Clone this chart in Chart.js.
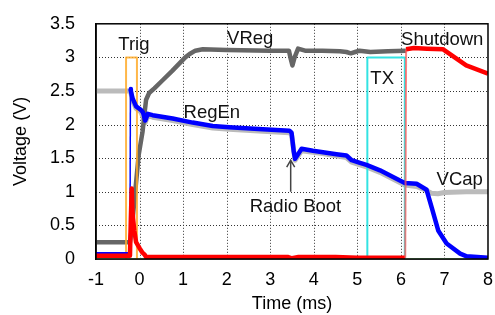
<!DOCTYPE html>
<html lang="en">
<head>
<meta charset="UTF-8">
<title>Voltage trace</title>
<script src="https://cdn.jsdelivr.net/npm/chart.js"></script>
<style>
  body { margin: 0; background: #fff; }
  .wrap { width: 495px; height: 315px; }
</style>
</head>
<body>
<div class="wrap"><canvas id="traceChart" width="495" height="315"></canvas></div>
<script>
// ---- data (time in ms, volts) ----
const vcapX = [-1, -0.21, -0.2, -0.16, -0.08, 0.03, 0.13, 0.19, 0.3, 0.76, 1.22, 1.68, 2.06, 2.83, 3.44, 3.49, 3.57, 3.72, 4.2, 4.75, 4.87, 5.06, 5.21, 5.52, 5.82, 6.09, 6.36, 6.55, 6.7, 6.85, 7.0, 7.5, 8.0];
const vcapY = [2.5, 2.5, 2.5, 2.36, 2.24, 2.19, 2.03, 2.13, 2.11, 2.06, 2.0, 1.95, 1.93, 1.9, 1.88, 1.85, 1.47, 1.61, 1.57, 1.51, 1.44, 1.40, 1.37, 1.29, 1.19, 1.1, 1.08, 1.03, 0.98, 0.97, 0.99, 1.0, 1.0];

const vregX = [-1, -0.22, -0.19, -0.15, -0.1, -0.02, 0.07, 0.12, 0.15, 0.22, 0.34, 0.53, 0.75, 0.9, 1.05, 1.15, 1.28, 1.45, 2.0, 3.0, 3.43, 3.47, 3.51, 3.56, 3.64, 3.8, 4.2, 4.6, 4.75, 4.85, 4.95, 5.05, 5.3, 5.7, 6.12];
const vregY = [0.25, 0.25, 0.4, 0.65, 1.0, 1.55, 1.9, 2.2, 2.37, 2.47, 2.54, 2.66, 2.8, 2.9, 3.0, 3.05, 3.1, 3.12, 3.11, 3.1, 3.1, 2.98, 2.88, 3.0, 3.13, 3.1, 3.1, 3.09, 3.08, 3.06, 3.08, 3.1, 3.08, 3.09, 3.1];

const regenX = [-1, -0.22, -0.21, -0.2, -0.16, -0.08, 0.03, 0.08, 0.13, 0.19, 0.3, 0.76, 1.22, 1.68, 2.06, 2.83, 3.44, 3.49, 3.54, 3.57, 3.72, 3.98, 4.52, 4.75, 4.87, 5.06, 5.21, 5.52, 5.82, 6.09, 6.36, 6.59, 6.71, 6.86, 7.05, 7.36, 7.51, 8.0];
const regenY = [0.07, 0.07, 2.53, 2.5, 2.39, 2.27, 2.22, 2.18, 2.06, 2.16, 2.14, 2.09, 2.03, 1.98, 1.96, 1.93, 1.91, 1.88, 1.6, 1.49, 1.64, 1.61, 1.56, 1.54, 1.47, 1.43, 1.40, 1.32, 1.22, 1.13, 1.12, 1.03, 0.76, 0.42, 0.23, 0.08, 0.04, 0.02];
const regenJumpX = -0.22;

const shutX = [-1, -0.22, -0.2, -0.18, -0.16, -0.12, -0.08, 0.0, 0.06, 0.11, 0.15, 1.0, 2.0, 3.0, 3.4, 3.5, 3.65, 4.5, 5.0, 6.1, 6.12, 6.3, 6.6, 6.97, 7.5, 8.0];
const shutY = [0.05, 0.05, 0.6, 1.05, 0.67, 0.42, 0.25, 0.16, 0.1, 0.07, 0.03, 0.03, 0.03, 0.03, 0.03, 0.01, 0.03, 0.03, 0.02, 0.02, 3.12, 3.14, 3.13, 3.12, 2.88, 2.76];
const shutJumpX = 6.1;

const groundX = [-1, 8];
const groundY = [0, 0];

const trigX = [-0.31, -0.31, -0.06, -0.06];
const trigY = [0, 3.0, 3.0, 0];
const txX = [5.23, 5.23, 6.09, 6.09];
const txY = [0, 3.0, 3.0, 0];

const xTicks = [-1, 8, 1];      // min, max, step
const yTicks = [0, 3.5, 0.5];

const noteText = ['Trig', 'VReg', 'RegEn', 'Shutdown', 'TX', 'VCap', 'Radio Boot'];
const noteX = [-0.13, 2.54, 1.66, 6.95, 5.57, 7.35, 3.58];
const noteY = [3.11, 3.2, 2.1, 3.19, 2.61, 1.1, 0.7];

const arrowX = 3.47;
const arrowFrom = 1.0;
const arrowTo = 1.47;

function pts(xs, ys) {
    return xs.map((x, i) => ({ x: x, y: ys[i] }));
}

const FONT = "'Liberation Sans', Arial, sans-serif";

// dotted grid, drawn by hand so the dots come out crisp
const gridPlugin = {
    id: 'dotgrid',
    beforeDatasetsDraw(chart) {
        const ctx = chart.ctx;
        const a = chart.chartArea;
        const xs = chart.scales.x, ys = chart.scales.y;
        ctx.save();
        ctx.strokeStyle = '#333';
        ctx.lineWidth = 1;
        ctx.setLineDash([1, 2]);
        ctx.beginPath();
        xs.ticks.forEach(t => {
            if (t.value <= xs.min || t.value >= xs.max) return;
            const p = Math.round(xs.getPixelForValue(t.value)) + 0.5;
            ctx.moveTo(p, a.top);
            ctx.lineTo(p, a.bottom);
        });
        ys.ticks.forEach(t => {
            if (t.value <= ys.min || t.value >= ys.max) return;
            const p = Math.round(ys.getPixelForValue(t.value)) + 0.5;
            ctx.moveTo(a.left, p);
            ctx.lineTo(a.right, p);
        });
        ctx.stroke();
        ctx.restore();
    }
};

const notesPlugin = {
    id: 'notes',
    afterDatasetsDraw(chart) {
        const ctx = chart.ctx;
        const xs = chart.scales.x, ys = chart.scales.y;
        const a = chart.chartArea;
        ctx.save();
        // frame round the plot
        ctx.strokeStyle = '#000';
        ctx.lineWidth = 1.5;
        ctx.strokeRect(a.left, a.top, a.right - a.left, a.bottom - a.top);
        // text labels
        ctx.fillStyle = '#111';
        ctx.font = '18.5px ' + FONT;
        ctx.textAlign = 'center';
        ctx.textBaseline = 'alphabetic';
        noteText.forEach((t, i) => {
            ctx.fillText(t, xs.getPixelForValue(noteX[i]), ys.getPixelForValue(noteY[i]));
        });
        // radio boot arrow
        const ax = xs.getPixelForValue(arrowX);
        const y0 = ys.getPixelForValue(arrowFrom), y1 = ys.getPixelForValue(arrowTo);
        ctx.strokeStyle = '#444';
        ctx.lineWidth = 1.5;
        ctx.beginPath();
        ctx.moveTo(ax, y0);
        ctx.lineTo(ax, y1);
        ctx.moveTo(ax - 4, y1 + 7);
        ctx.lineTo(ax, y1);
        ctx.lineTo(ax + 4, y1 + 7);
        ctx.stroke();
        ctx.restore();
    }
};

function init() {
    const ctx = document.getElementById('traceChart').getContext('2d');
    const shutIdx = shutX.indexOf(shutJumpX);
    const regenIdx = regenX.indexOf(regenJumpX);
    new Chart(ctx, {
        type: 'line',
        data: {
            datasets: [
                { label: 'Shutdown', data: pts(shutX, shutY), borderColor: '#ff0000', borderWidth: 4.5, order: 1,
                  segment: {
                      borderColor: c => c.p0DataIndex === shutIdx ? 'rgba(255,90,90,0.75)' : undefined,
                      borderWidth: c => c.p0DataIndex === shutIdx ? 2 : undefined
                  } },
                { label: 'RegEn', data: pts(regenX, regenY), borderColor: '#0000ff', borderWidth: 4.5, order: 2,
                  segment: {
                      borderWidth: c => c.p0DataIndex === regenIdx ? 1.5 : undefined
                  } },
                { label: 'Trig', data: pts(trigX, trigY), borderColor: 'rgba(255,170,40,0.85)', borderWidth: 2, order: 3 },
                { label: 'TX', data: pts(txX, txY), borderColor: '#33e3e3', borderWidth: 2, order: 4 },
                { label: 'VReg', data: pts(vregX, vregY), borderColor: '#666666', borderWidth: 4.5, order: 5 },
                { label: 'VCap', data: pts(vcapX, vcapY), borderColor: '#bbbbbb', borderWidth: 5, order: 6 },
                { label: 'GND', data: pts(groundX, groundY), borderColor: '#9be59b', borderWidth: 2, order: 7 }
            ]
        },
        options: {
            responsive: false,
            animation: false,
            elements: { point: { radius: 0 }, line: { tension: 0, borderJoinStyle: 'round' } },
            layout: { padding: { top: 19, right: 7, left: 0, bottom: 0 } },
            plugins: { legend: { display: false }, tooltip: { enabled: false } },
            scales: {
                x: {
                    type: 'linear',
                    min: xTicks[0], max: xTicks[1],
                    ticks: { stepSize: xTicks[2], color: '#000', padding: 2, font: { family: FONT, size: 18 },
                             callback: v => String(v) },
                    grid: { display: false },
                    border: { color: '#000', width: 1.5 },
                    title: { display: true, text: 'Time (ms)', color: '#000', font: { family: FONT, size: 18 }, padding: { top: 0, bottom: 0 } },
                    afterFit: s => { s.height = 56; }
                },
                y: {
                    type: 'linear',
                    min: yTicks[0], max: yTicks[1],
                    ticks: { stepSize: yTicks[2], color: '#000', padding: 13, font: { family: FONT, size: 18 },
                             callback: v => String(v) },
                    grid: { display: false },
                    border: { color: '#000', width: 1.5 },
                    title: { display: true, text: 'Voltage (V)', color: '#000', font: { family: FONT, size: 18 }, padding: { top: 10, bottom: 0 } },
                    afterFit: s => { s.width = 96; }
                }
            }
        },
        plugins: [gridPlugin, notesPlugin]
    });
}
init();
</script>
</body>
</html>
